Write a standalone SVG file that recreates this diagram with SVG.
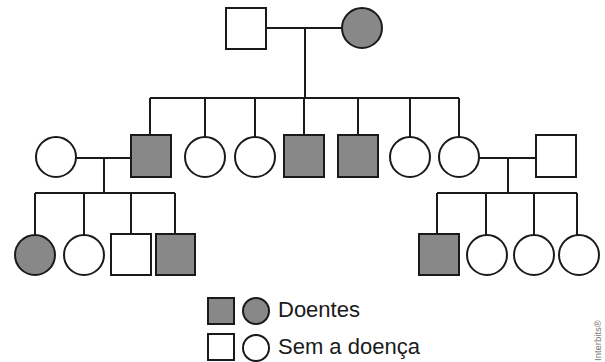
<svg xmlns="http://www.w3.org/2000/svg" width="605" height="362" viewBox="0 0 605 362">
  <style>
    .line { stroke: #1a1a1a; stroke-width: 2; fill: none; }
    .sick { fill: #888888; stroke: #1a1a1a; stroke-width: 2; }
    .well { fill: #ffffff; stroke: #1a1a1a; stroke-width: 2; }
    .label { font-family: "Liberation Sans", Arial, sans-serif; font-size: 22px; fill: #1a1a1a; }
    .credit { font-family: "Liberation Sans", Arial, sans-serif; font-size: 9.5px; fill: #777777; }
  </style>
  <rect width="605" height="362" fill="#ffffff"/>

  <!-- connectors -->
  <g id="connectors" class="line">
    <!-- generation I couple and descent -->
    <path d="M266 28 H342 M305 28 V98"/>
    <path d="M150 98 H459"/>
    <path d="M150 98 V135 M205 98 V137 M255 98 V137 M304 98 V135 M358 98 V135 M410 98 V137 M459 98 V137"/>
    <!-- left couple of generation II -->
    <path d="M76 158 H131 M104 158 V193 M35 193 H175"/>
    <path d="M35 193 V235 M84 193 V235 M131 193 V234 M175 193 V234"/>
    <!-- right couple of generation II -->
    <path d="M479 158 H536 M508 158 V193 M437 193 H577"/>
    <path d="M437 193 V234 M486 193 V235 M534 193 V235 M577 193 V235"/>
  </g>

  <!-- generation I -->
  <g id="I-1"><rect class="well" x="226" y="8" width="40" height="41"/></g>
  <g id="I-2"><circle class="sick" cx="362" cy="28" r="20"/></g>

  <!-- generation II -->
  <g id="II-spouse-left"><circle class="well" cx="56" cy="157" r="20"/></g>
  <g id="II-1"><rect class="sick" x="131" y="135" width="40" height="42"/></g>
  <g id="II-2"><circle class="well" cx="205" cy="157" r="20"/></g>
  <g id="II-3"><circle class="well" cx="255" cy="157" r="20"/></g>
  <g id="II-4"><rect class="sick" x="284" y="135" width="40" height="42"/></g>
  <g id="II-5"><rect class="sick" x="338" y="135" width="40" height="42"/></g>
  <g id="II-6"><circle class="well" cx="410" cy="157" r="20"/></g>
  <g id="II-7"><circle class="well" cx="459" cy="157" r="20"/></g>
  <g id="II-spouse-right"><rect class="well" x="536" y="135" width="40" height="42"/></g>

  <!-- generation III -->
  <g id="III-1"><circle class="sick" cx="35" cy="255" r="20"/></g>
  <g id="III-2"><circle class="well" cx="84" cy="255" r="20"/></g>
  <g id="III-3"><rect class="well" x="111" y="234" width="40" height="41"/></g>
  <g id="III-4"><rect class="sick" x="156" y="234" width="39" height="41"/></g>
  <g id="III-5"><rect class="sick" x="419" y="234" width="40" height="41"/></g>
  <g id="III-6"><circle class="well" cx="487" cy="255" r="20"/></g>
  <g id="III-7"><circle class="well" cx="534" cy="255" r="20"/></g>
  <g id="III-8"><circle class="well" cx="579" cy="255" r="20"/></g>

  <!-- legend -->
  <g id="legend">
    <rect class="sick" x="208" y="298" width="26" height="26"/>
    <circle class="sick" cx="256" cy="311" r="13"/>
    <text class="label" x="278" y="317">Doentes</text>
    <rect class="well" x="208" y="334" width="26" height="26"/>
    <circle class="well" cx="256" cy="348" r="13"/>
    <text class="label" x="278" y="354">Sem a doença</text>
  </g>

  <text class="credit" transform="translate(601 361) rotate(-90)">Interbits®</text>
</svg>
